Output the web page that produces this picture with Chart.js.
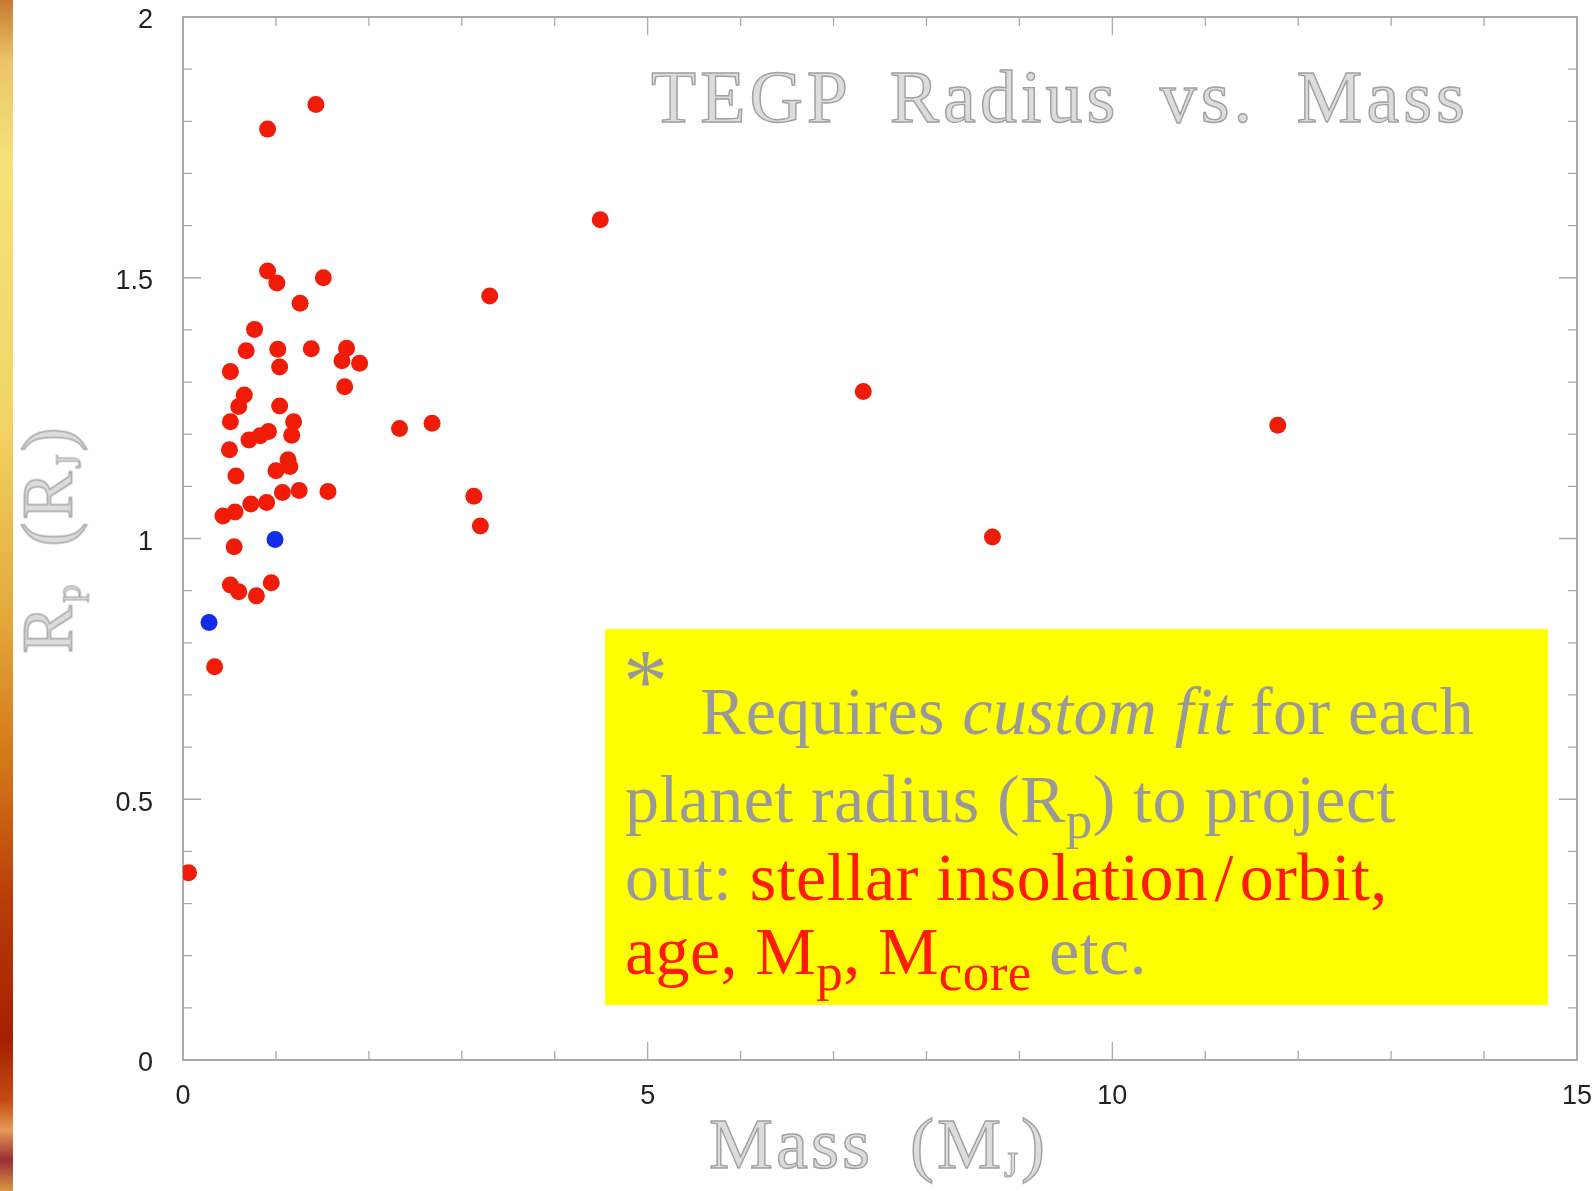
<!DOCTYPE html>
<html>
<head>
<meta charset="utf-8">
<script src="https://cdn.jsdelivr.net/npm/chart.js@4.4.0/dist/chart.umd.min.js"></script>
<style>
  html, body { margin: 0; padding: 0; background: #fff; }
  #wrap { position: relative; width: 1595px; height: 1191px; overflow: hidden; background: #fff; }
  #strip {
    position: absolute; left: 0; top: 0; width: 13px; height: 1191px;
    background: linear-gradient(to bottom, #c87a30 0px, #e9c468 60px, #f6e27c 160px, #f2d466 420px,
      #e3a83a 620px, #d07018 780px, #b83c08 900px, #a32000 1040px, #c44a14 1100px, #e89a58 1130px,
      #9a2c36 1160px, #d89844 1191px);
  }
  .hershey { position: absolute; font-family: "Liberation Serif", serif; color: #dcdcdc;
    -webkit-text-stroke: 1.4px #a0a0a0; white-space: nowrap; line-height: 1; }
  #title { left: 651px; top: 60px; font-size: 74px; letter-spacing: 4px; word-spacing: 18px; }
  #xtitle { left: 709px; top: 1108px; font-size: 72px; letter-spacing: 3px; word-spacing: 16px; }
  #ytitle { left: 49px; top: 539px; font-size: 72px; letter-spacing: 3px; word-spacing: 14px;
    transform: translate(-50%, -50%) rotate(-90deg); }
  .hershey sub { font-size: 0.5em; vertical-align: -0.25em; -webkit-text-stroke: 1px #a0a0a0; }
  #note { position: absolute; left: 605px; top: 629px; width: 943px; height: 376px; background: #ffff00; }
  .nl { position: absolute; left: 20px; font-family: "Liberation Serif", serif; font-size: 68px;
    letter-spacing: 0.4px; line-height: 1; color: #999999; white-space: nowrap; }
  .nl sub { font-size: 0.78em; vertical-align: -0.3em; line-height: 0; }
  .red { color: #ff1a0a; }
</style>
</head>
<body>
<div id="wrap">
  <canvas id="chart" width="1595" height="1191"></canvas>
  <div id="strip"></div>
  <div id="title" class="hershey">TEGP Radius vs. Mass</div>
  <div id="xtitle" class="hershey">Mass (M<sub>J</sub>)</div>
  <div id="ytitle" class="hershey">R<sub>p</sub> (R<sub>J</sub>)</div>
  <div id="note">
    <div class="nl" style="top:8px; left:18px; font-size:90px;">*</div>
    <div class="nl" style="top:48px; left:95px;">Requires <i>custom fit</i> for each</div>
    <div class="nl" style="top:136px;">planet radius (R<sub>p</sub>) to project</div>
    <div class="nl" style="top:214px;">out: <span class="red">stellar insolation&#8202;/&#8202;orbit,</span></div>
    <div class="nl" style="top:288px;"><span class="red">age, M<sub>p</sub>, M<sub>core</sub></span> etc.</div>
  </div>
</div>
<script>
// planets (mass in Jupiter masses, radius in Jupiter radii)
const redMass = [0.91, 1.01, 1.51, 1.26, 0.77, 0.68, 1.02, 1.04, 1.38, 1.76,
                 1.71, 1.90, 1.74, 0.51, 0.66, 0.60, 0.51, 1.04, 1.19, 1.17,
                 0.92, 0.83, 0.71, 0.50, 0.57, 1.13, 1.00, 1.15, 1.56, 1.25,
                 1.07, 0.90, 0.73, 0.56, 0.43, 0.55, 0.51, 0.60, 0.79, 0.95,
                 0.34, 0.06, 0.91, 1.43, 4.49, 3.30, 7.32, 11.78, 8.71, 2.33,
                 2.68, 3.13, 3.20];
const redRadius = [1.513, 1.490, 1.500, 1.451, 1.401, 1.360, 1.363, 1.329, 1.364, 1.365,
                   1.341, 1.336, 1.291, 1.320, 1.275, 1.253, 1.224, 1.254, 1.224, 1.198,
                   1.205, 1.197, 1.189, 1.170, 1.120, 1.151, 1.130, 1.138, 1.090, 1.092,
                   1.088, 1.069, 1.066, 1.051, 1.043, 0.984, 0.911, 0.898, 0.890, 0.915,
                   0.754, 0.359, 1.785, 1.832, 1.611, 1.465, 1.282, 1.217, 1.003, 1.211,
                   1.221, 1.081, 1.024];
const blueMass = [0.28, 0.99];
const blueRadius = [0.839, 0.998];

const xTicks = [0, 5, 10, 15];
const yTicks = [0, 0.5, 1, 1.5, 2];
const xTickLabels = ['0', '5', '10', '15'];
const yTickLabels = ['0', '0.5', '1', '1.5', '2'];

const toPoints = (xs, ys) => xs.map((m, i) => ({ x: m, y: ys[i] }));

// frame with inward ticks on all four sides
const frameTicks = {
    id: 'frameTicks',
    beforeDatasetsDraw(chart) {
        const { ctx, chartArea: a, scales: { x, y } } = chart;
        ctx.save();
        ctx.strokeStyle = '#aaaaaa';
        ctx.lineWidth = 2;
        ctx.strokeRect(a.left, a.top, a.right - a.left, a.bottom - a.top);
        ctx.lineWidth = 1.3;
        ctx.beginPath();
        for (let i = 0; i <= 15; i++) {
            const px = x.getPixelForValue(i);
            const len = i % 5 === 0 ? 18 : 9;
            ctx.moveTo(px, a.bottom); ctx.lineTo(px, a.bottom - len);
            ctx.moveTo(px, a.top); ctx.lineTo(px, a.top + len);
        }
        for (let i = 0; i <= 20; i++) {
            const py = y.getPixelForValue(i / 10);
            const len = i % 5 === 0 ? 18 : 9;
            ctx.moveTo(a.left, py); ctx.lineTo(a.left + len, py);
            ctx.moveTo(a.right, py); ctx.lineTo(a.right - len, py);
        }
        ctx.stroke();
        ctx.restore();
    }
};

// no extra room for label overhang, plot area is fixed by layout padding
const noPad = s => { s.paddingTop = 0; s.paddingBottom = 0; s.paddingLeft = 0; s.paddingRight = 0; };

new Chart("chart", {
    type: "scatter",
    data: {
        datasets: [{
            label: "planets",
            data: toPoints(redMass, redRadius),
            backgroundColor: "rgb(240, 28, 8)",
            borderWidth: 0,
            pointRadius: 8.5,
        }, {
            label: "solar system",
            data: toPoints(blueMass, blueRadius),
            backgroundColor: "rgb(18, 44, 232)",
            borderWidth: 0,
            pointRadius: 8.5,
        }]
    },
    options: {
        responsive: false,
        animation: false,
        layout: { padding: { top: 17, right: 18, left: 0, bottom: 0 } },
        plugins: {
            legend: { display: false },
            tooltip: { enabled: false },
        },
        scales: {
            x: {
                type: 'linear', min: 0, max: 15,
                grid: { display: false },
                border: { display: false },
                afterBuildTicks: s => { s.ticks = xTicks.map(v => ({ value: v })); },
                afterFit: s => { s.height = 131; noPad(s); },
                ticks: {
                    padding: 12,
                    color: '#222',
                    font: { family: 'Liberation Sans', size: 27 },
                    maxRotation: 0,
                    callback: v => xTickLabels[xTicks.indexOf(v)],
                },
            },
            y: {
                type: 'linear', min: 0, max: 2,
                grid: { display: false },
                border: { display: false },
                afterBuildTicks: s => { s.ticks = yTicks.map(v => ({ value: v })); },
                afterFit: s => { s.width = 183; noPad(s); },
                ticks: {
                    padding: 22,
                    labelOffset: 4,
                    color: '#222',
                    font: { family: 'Liberation Sans', size: 27 },
                    callback: v => yTickLabels[yTicks.indexOf(v)],
                },
            }
        }
    },
    plugins: [frameTicks]
});
</script>
</body>
</html>
